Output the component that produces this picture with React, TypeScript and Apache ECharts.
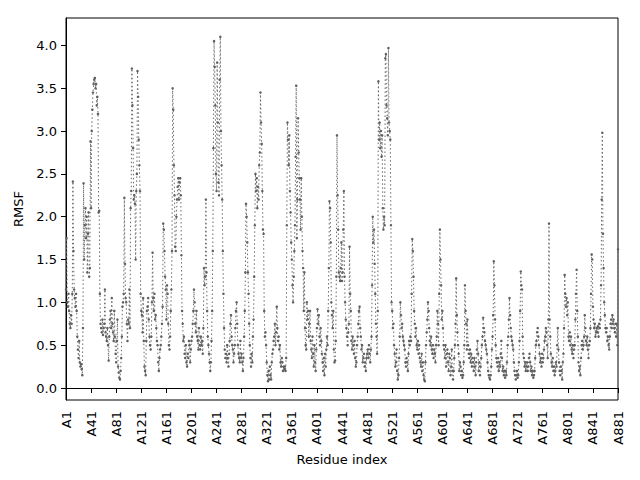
import React, { useEffect, useRef } from "react";
import * as echarts from "echarts";

// RMSF per residue (A1..A881)
const rmsfA = [
  1.15, 1.75, 1.0, 0.95, 1.1, 0.9, 0.75, 0.7, 0.85, 0.75, 1.1,
  2.41, 1.6, 1.15, 1.05, 0.95, 1.1, 0.9, 0.6, 0.45, 0.35,
  0.55, 0.3, 0.25, 0.28, 0.22, 0.15, 0.7, 2.39, 1.5, 1.9,
  2.1, 1.75, 2.0, 1.35, 1.8, 2.05, 1.3, 1.4, 2.88, 2.1,
  3.0, 3.25, 3.45, 3.55, 3.6, 3.62, 3.5, 3.55, 3.3, 3.4,
  3.2, 2.05, 2.07, 1.1, 0.75, 0.7, 0.65, 0.8, 0.62, 0.7,
  0.75, 1.15, 0.65, 0.6, 0.55, 0.7, 0.5, 0.32, 0.6, 0.8,
  0.9, 0.7, 1.05, 0.75, 0.65, 0.55, 0.9, 0.6, 0.4, 0.3,
  0.55, 0.8, 0.25, 0.18, 0.12, 0.1, 0.2, 0.35, 0.6, 0.95,
  1.0, 1.1, 2.22, 1.45, 1.05, 1.0, 0.75, 0.55, 0.8, 0.75,
  1.15, 0.7, 2.1, 2.3, 3.73, 3.3, 2.8, 2.2, 2.25, 2.15,
  1.5, 2.3, 2.5, 3.7, 3.4, 2.9, 2.6, 2.3, 1.1, 0.9,
  0.85, 0.65, 1.05, 0.55, 0.25, 0.2, 0.15, 0.55, 0.9,
];
const rmsfB = [
  0.95, 1.05, 0.8, 0.6, 0.5, 0.45, 0.6, 1.0, 1.58, 1.05,
  0.9, 1.1, 0.8, 0.85, 0.7, 0.55, 0.5, 0.3, 0.2, 0.35,
  0.45, 0.5, 0.6, 0.75, 0.95, 1.92, 1.85, 1.6, 1.3, 1.15,
  0.8, 1.2, 1.1, 0.75, 0.5, 0.45, 0.6, 0.9, 1.15, 1.6,
  3.5, 3.25, 2.6, 2.25, 1.65, 1.6, 2.0, 2.2, 2.35, 2.45,
  2.2, 2.4, 2.45, 2.25, 1.55, 0.9, 0.75, 0.55, 0.6, 0.4,
  0.35, 0.5, 0.3, 0.25, 0.4, 0.35, 0.55, 0.5, 0.3, 0.45,
  0.55, 0.6, 0.75, 0.9, 1.15, 1.0, 0.75, 0.65, 0.9, 0.6,
  0.55, 0.45, 0.7, 0.5, 0.45, 0.6, 0.5, 0.55, 0.4, 0.7,
  1.4, 1.2, 1.3, 2.2, 1.35, 0.9, 0.6, 0.5, 0.4, 0.3,
  0.2, 0.3, 0.55, 0.9, 1.6, 2.8, 4.05, 3.75, 3.3, 2.5,
  2.3, 3.8, 3.1, 2.4, 2.25, 3.6, 4.1, 3.0, 2.6, 2.2,
  1.6, 1.1, 0.7, 0.45, 0.35, 0.4, 0.3, 0.5, 0.35, 0.25,
];
const rmsfC = [
  0.4, 0.55, 0.75, 0.85, 0.6, 0.5, 0.45, 0.3, 0.4, 0.5,
  0.7, 0.9, 1.0, 0.75, 0.5, 0.4, 0.35, 0.3, 0.55, 0.35,
  0.4, 0.3, 0.2, 0.35, 0.6, 0.9, 1.35, 2.15, 2.0, 1.7,
  1.35, 1.1, 0.75, 0.5, 0.35, 0.25, 0.4, 0.3, 0.6, 0.8,
  1.3, 1.9, 2.5, 2.3, 2.45, 2.1, 2.35, 2.2, 2.6, 2.75,
  3.45, 3.1, 2.85, 2.3, 1.85, 1.8, 0.9, 0.6, 0.65, 0.5,
  0.3, 0.15, 0.08, 0.2, 0.1, 0.25, 0.15, 0.1, 0.3, 0.4,
  0.45, 0.55, 0.6, 0.75, 0.5, 0.65, 0.95, 0.7, 0.55, 0.6,
  0.45, 0.5, 0.3, 0.25, 0.35, 0.3, 0.2, 0.25, 0.22, 0.25,
  0.2, 0.35, 1.9, 3.1, 2.9, 2.6, 2.95, 2.3, 2.05, 1.7,
  1.5, 1.2, 1.0, 1.3, 1.6, 1.9, 2.7, 3.53, 1.75, 2.2,
  3.15, 2.75, 2.45, 2.2, 1.85, 2.45, 2.0, 1.6, 1.4, 0.9,
  1.35, 0.7, 0.5, 0.45, 1.0,
];
const rmsfD = [
  0.8, 0.9, 0.6, 0.75, 0.9, 0.55, 0.45, 0.35, 0.6, 0.4,
  0.25, 0.5, 0.3, 0.2, 0.45, 0.7, 0.92, 0.75, 0.85, 0.6,
  0.5, 0.7, 0.55, 0.4, 0.3, 0.2, 0.35, 0.15, 0.4, 0.25,
  0.45, 0.6, 0.5, 0.9, 1.4, 2.18, 2.1, 1.7, 1.0, 0.85,
  0.7, 0.9, 0.45, 0.3, 0.32, 0.55, 1.3, 2.95, 2.25, 1.85,
  1.35, 1.3, 1.25, 1.4, 1.7, 1.25, 1.35, 1.85, 2.3, 1.3,
  1.0, 0.8, 0.7, 0.6, 0.5, 0.65, 0.75, 1.65, 1.1, 0.9,
  0.55, 0.45, 0.6, 0.5, 0.4, 0.55, 0.35, 0.25, 0.3, 0.5,
  0.6, 0.75, 0.9, 0.95, 0.7, 0.6, 0.45, 0.5, 0.3, 0.35,
  0.4, 0.25, 0.3, 0.2, 0.35, 0.4, 0.45, 0.35, 0.5, 0.4,
  0.3, 0.45, 0.6, 1.2, 2.0, 1.7, 1.85, 1.45, 1.1, 0.75,
  0.6, 0.4, 0.9, 3.58, 2.9, 3.1, 2.8, 3.0, 2.7, 2.95,
  2.1, 1.85, 2.0, 1.9, 3.85,
];
const rmsfE = [
  3.9, 3.3, 3.15, 2.95, 3.97, 3.1, 3.0, 2.9, 1.9, 1.0,
  0.9, 0.7, 0.75, 0.5, 0.4, 0.25, 0.3, 0.45, 0.2, 0.1,
  0.15, 0.35, 0.6, 1.0, 0.85, 0.7, 0.75, 0.6, 0.55, 0.5,
  0.45, 0.3, 0.25, 0.35, 0.3, 0.2, 0.4, 0.55, 0.5, 0.6,
  0.55, 1.1, 1.74, 1.6, 1.3, 0.9, 0.75, 0.6, 0.7, 0.5,
  0.45, 0.55, 0.4, 0.5, 0.35, 0.3, 0.25, 0.4, 0.2, 0.3,
  0.15, 0.1, 0.08, 0.3, 0.5, 0.65, 0.8, 1.0, 0.9, 0.7,
  0.55, 0.5, 0.6, 0.45, 0.4, 0.5, 0.35, 0.45, 0.4, 0.3,
  0.5, 0.6, 0.9, 0.75, 0.5, 1.1, 1.85, 1.5, 1.2, 0.8,
  0.9, 0.7, 0.5, 0.45, 0.35, 0.5, 0.25, 0.4, 0.45, 0.3,
  0.2, 0.4, 0.35, 0.15, 0.25, 0.45, 0.2, 0.1, 0.2, 0.35,
  0.5, 0.75, 1.28, 0.85, 0.65, 0.5, 0.4, 0.2, 0.3, 0.25,
  0.15, 0.2, 0.12, 0.15, 0.3, 0.5, 1.2, 0.9, 0.75, 0.45,
];
const rmsfF = [
  0.8, 0.5, 0.4, 0.35, 0.45, 0.3, 0.4, 0.25, 0.35, 0.3,
  0.2, 0.35, 0.25, 0.15, 0.3, 0.45, 0.55, 0.4, 0.2, 0.3,
  0.15, 0.25, 0.35, 0.5, 0.6, 0.82, 0.7, 0.65, 0.55, 0.5,
  0.45, 0.4, 0.3, 0.2, 0.15, 0.12, 0.1, 0.15, 0.25, 0.45,
  0.6, 0.85, 1.48, 1.2, 0.8, 0.5, 0.35, 0.3, 0.25, 0.35,
  0.2, 0.3, 0.25, 0.4, 0.55, 0.35, 0.2, 0.25, 0.15, 0.2,
  0.12, 0.2, 0.15, 0.3, 0.5, 0.6, 0.8, 1.05, 0.85, 0.7,
  0.6, 0.55, 0.5, 0.45, 0.3, 0.2, 0.15, 0.1, 0.15, 0.2,
  0.12, 0.15, 0.3, 0.55, 0.9, 1.36, 1.2, 1.15, 0.6, 0.4,
  0.35, 0.25, 0.3, 0.2, 0.25, 0.3, 0.2, 0.25, 0.35, 0.4,
  0.3, 0.2, 0.25, 0.15, 0.2, 0.12, 0.15, 0.2, 0.35, 0.5,
  0.55, 0.65, 0.7, 0.6, 0.5, 0.4, 0.3, 0.35, 0.25, 0.4,
  0.3, 0.35, 0.45, 0.55, 0.6, 0.7, 0.65, 0.5, 0.35, 0.8,
];
const rmsfG = [
  1.92, 0.8, 0.6, 0.4, 0.3, 0.25, 0.35, 0.2, 0.25, 0.15,
  0.2, 0.3, 0.25, 0.5, 0.7, 0.45, 0.3, 0.2, 0.15, 0.25,
  0.2, 0.1, 0.3, 0.4, 0.7, 1.32, 1.1, 0.95, 1.05, 0.85,
  1.0, 0.6, 0.55, 0.65, 0.5, 0.6, 0.45, 0.4, 0.5, 0.35,
  0.45, 0.5, 0.8, 1.1, 1.38, 0.9, 0.6, 0.3, 0.2, 0.25,
  0.15, 0.35, 0.5, 0.55, 0.45, 0.5, 0.6, 0.85, 0.7, 0.55,
  0.5, 0.6, 0.45, 0.35, 0.5, 0.55, 0.7, 1.1, 1.56, 1.5,
  0.95, 0.8, 0.7, 0.75, 0.6, 0.65, 0.7, 0.65, 0.72, 0.6,
  0.75, 0.7, 0.8, 1.2, 2.2, 2.98, 1.8, 1.4, 1.0, 0.85,
  0.7, 0.65, 0.7, 0.55, 0.6, 0.5, 0.45, 0.6, 0.75, 0.8,
  0.7, 0.85, 0.75, 0.8, 0.7, 0.65, 0.75, 0.6, 0.75, 0.5, 1.62,
];

const rmsf = [...rmsfA, ...rmsfB, ...rmsfC, ...rmsfD, ...rmsfE, ...rmsfF, ...rmsfG];

const xTickResidues = [1, 41, 81, 121, 161, 201, 241, 281, 321, 361, 401, 441, 481, 521, 561, 601, 641, 681, 721, 761, 801, 841, 881];
const yTickValues = [0, 0.5, 1, 1.5, 2, 2.5, 3, 3.5, 4];

const FONT = "DejaVu Sans";
const FS = 13;

export default function App() {
  const ref = useRef<HTMLDivElement>(null);
  useEffect(() => {
    document.body.style.margin = "0";
    const chart = echarts.init(ref.current as HTMLDivElement, null, { renderer: "svg" });
    chart.setOption({
      animation: false,
      backgroundColor: "#ffffff",
      grid: { left: 66, right: 22, top: 18, bottom: 80, show: true, borderColor: "#000", borderWidth: 1 },
      xAxis: {
        type: "value",
        min: 1,
        max: 881,
        name: "Residue index",
        nameLocation: "middle",
        nameGap: 48,
        nameTextStyle: { fontFamily: FONT, fontSize: FS, color: "#000" },
        axisLine: { show: true, lineStyle: { color: "#000", width: 1 } },
        axisTick: { show: true, length: 5, lineStyle: { color: "#000", width: 1 }, customValues: xTickResidues },
        axisLabel: {
          rotate: 90,
          margin: 11,
          fontFamily: FONT,
          fontSize: FS,
          color: "#000",
          customValues: xTickResidues,
          formatter: (v: number) => "A" + v,
        },
        splitLine: { show: false },
      },
      yAxis: {
        type: "value",
        min: -0.14,
        max: 4.32,
        name: "RMSF",
        nameLocation: "middle",
        nameGap: 34,
        nameTextStyle: { fontFamily: FONT, fontSize: FS, color: "#000" },
        axisLine: { show: true, lineStyle: { color: "#000", width: 1 } },
        axisTick: { show: true, length: 5, lineStyle: { color: "#000", width: 1 }, customValues: yTickValues },
        axisLabel: {
          margin: 9,
          fontFamily: FONT,
          fontSize: FS,
          color: "#000",
          customValues: yTickValues,
          formatter: (v: number) => v.toFixed(1),
        },
        splitLine: { show: false },
      },
      series: [
        {
          type: "line",
          data: rmsf.map((v, i) => [i + 1, v]),
          symbol: "circle",
          symbolSize: 2.5,
          showSymbol: true,
          showAllSymbol: true,
          lineStyle: { type: [1.5, 2.5], width: 1, color: "#6a6a6a" },
          itemStyle: { color: "#5f5f5f", borderWidth: 0 },
          clip: true,
        },
      ],
    });
    return () => chart.dispose();
  }, []);
  return <div ref={ref} style={{ width: 640, height: 480 }} />;
}
